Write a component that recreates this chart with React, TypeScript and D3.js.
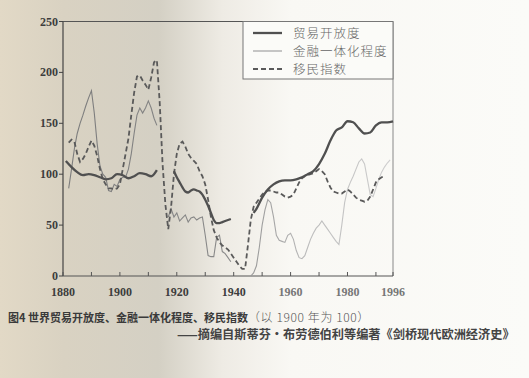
import React from "react";
import * as d3 from "d3";

const yTicks = [0, 50, 100, 150, 200, 250];
const xTickYears = [1880, 1890, 1900, 1910, 1920, 1930, 1940, 1950, 1960, 1970, 1980, 1990, 1996];
const xLabelYears = [1880, 1900, 1920, 1940, 1960, 1980, 1996];

const legendLabels = ["贸易开放度", "金融一体化程度", "移民指数"];

const tradeA: [number, number][] = [
  [1881, 113], [1883, 107], [1885, 102], [1887, 99], [1889, 100], [1891, 99], [1893, 97],
  [1895, 95], [1897, 96], [1899, 100], [1901, 99], [1903, 96], [1905, 98], [1907, 101],
  [1909, 100], [1911, 98], [1913, 104],
];
const tradeB: [number, number][] = [
  [1919, 103], [1920, 97], [1921, 92], [1922, 87], [1923, 83], [1924, 82], [1925, 84],
  [1926, 85], [1927, 84], [1928, 83], [1929, 80], [1930, 75], [1931, 69], [1932, 62],
  [1933, 55], [1934, 52], [1935, 52], [1936, 53], [1937, 54], [1938, 55], [1939, 56],
];
const tradeC: [number, number][] = [
  [1947, 62], [1948, 66], [1950, 77], [1952, 85], [1954, 90], [1956, 93], [1958, 94],
  [1960, 94], [1962, 95], [1964, 97], [1966, 100], [1968, 103], [1970, 110], [1972, 120],
  [1974, 133], [1976, 143], [1978, 146], [1980, 152], [1982, 151], [1984, 145], [1986, 140],
  [1988, 141], [1990, 148], [1992, 151], [1994, 151], [1996, 152],
];

const financeA: [number, number][] = [
  [1882, 86], [1883, 105], [1884, 125], [1885, 140], [1886, 150], [1887, 158], [1888, 167],
  [1889, 175], [1890, 182], [1891, 160], [1892, 130], [1893, 108], [1894, 100], [1895, 97],
  [1896, 84], [1897, 83], [1898, 90], [1899, 88], [1900, 95], [1901, 97], [1902, 97],
  [1903, 105], [1904, 120], [1905, 140], [1906, 158], [1907, 165], [1908, 160], [1909, 165],
  [1910, 172], [1911, 165], [1912, 155], [1913, 148],
];
const financeB: [number, number][] = [
  [1917, 58], [1918, 66], [1919, 58], [1920, 62], [1921, 54], [1922, 57], [1923, 60],
  [1924, 53], [1925, 57], [1926, 58], [1927, 55], [1928, 57], [1929, 58], [1930, 40],
  [1931, 20], [1932, 19], [1933, 19], [1934, 38], [1935, 40], [1936, 24], [1937, 22],
  [1938, 18], [1939, 14],
];
const financeC: [number, number][] = [
  [1946, 0], [1947, 3], [1948, 10], [1949, 28], [1950, 50], [1951, 65], [1952, 75],
  [1953, 72], [1954, 58], [1955, 40], [1956, 35], [1957, 34], [1958, 33], [1959, 40],
  [1960, 42], [1961, 36], [1962, 25], [1963, 18], [1964, 17], [1965, 20], [1966, 28],
  [1967, 36], [1968, 42], [1969, 47], [1970, 50], [1971, 54], [1972, 50], [1973, 46],
  [1974, 42], [1975, 38], [1976, 34], [1977, 31], [1978, 50], [1979, 72], [1980, 85],
  [1981, 92], [1982, 98], [1983, 105], [1984, 112], [1985, 115], [1986, 110], [1987, 95],
  [1988, 80], [1989, 78], [1990, 86], [1991, 95], [1992, 102], [1993, 107], [1994, 111],
  [1995, 114],
];

const migration: [number, number][] = [
  [1882, 131], [1883, 134], [1884, 132], [1885, 120], [1886, 112], [1887, 115], [1888, 120],
  [1889, 127], [1890, 133], [1891, 128], [1892, 118], [1893, 105], [1894, 95], [1895, 90],
  [1896, 86], [1897, 86], [1898, 85], [1899, 86], [1900, 90], [1901, 105], [1902, 120],
  [1903, 135], [1904, 158], [1905, 180], [1906, 196], [1907, 197], [1908, 192], [1909, 188],
  [1910, 183], [1911, 195], [1912, 210], [1913, 212], [1914, 170], [1915, 110], [1916, 70],
  [1917, 46], [1918, 68], [1919, 100], [1920, 120], [1921, 130], [1922, 132], [1923, 127],
  [1924, 120], [1925, 116], [1926, 113], [1927, 110], [1928, 103], [1929, 98], [1930, 90],
  [1931, 75], [1932, 58], [1933, 45], [1934, 38], [1935, 33], [1936, 30], [1937, 28],
  [1938, 26], [1939, 22], [1940, 18], [1941, 14], [1942, 10], [1943, 7], [1944, 7],
  [1945, 30], [1946, 55], [1947, 68], [1948, 72], [1949, 76], [1950, 80], [1951, 83],
  [1952, 84], [1953, 84], [1954, 83], [1955, 82], [1956, 82], [1957, 80], [1958, 78],
  [1959, 77], [1960, 78], [1961, 80], [1962, 86], [1963, 92], [1964, 96], [1965, 98],
  [1966, 99], [1967, 100], [1968, 101], [1969, 103], [1970, 105], [1971, 103], [1972, 100],
  [1973, 93], [1974, 87], [1975, 83], [1976, 82], [1977, 81], [1978, 81], [1979, 83],
  [1980, 85], [1981, 83], [1982, 80], [1983, 77], [1984, 75], [1985, 74], [1986, 73],
  [1987, 74], [1988, 78], [1989, 85], [1990, 92], [1991, 95], [1992, 97], [1993, 98],
];

const W = 529;
const H = 378;
const left = 63;
const right = 393;
const top = 21.5;
const bottom = 276;

export default function App() {
  const x = d3.scaleLinear().domain([1880, 1996]).range([left, right]);
  const y = d3.scaleLinear().domain([0, 250]).range([bottom, top]);

  const smooth = d3
    .line<[number, number]>()
    .x((d) => x(d[0]))
    .y((d) => y(d[1]))
    .curve(d3.curveMonotoneX);
  const straight = d3
    .line<[number, number]>()
    .x((d) => x(d[0]))
    .y((d) => y(d[1]))
    .curve(d3.curveLinear);

  const tickFont = "'Liberation Serif', 'DejaVu Serif', serif";
  const cjk = "'Noto Sans CJK SC', sans-serif";

  const legendY = [33, 51, 69];

  return (
    <svg
      width={W}
      height={H}
      style={{ position: "absolute", left: 0, top: 0, display: "block" }}
    >
      <defs>
        <linearGradient id="bg" x1="0" y1="0" x2="1" y2="0">
          <stop offset="0" stopColor="#e2d9c6" />
          <stop offset="0.12" stopColor="#d9d2c2" />
          <stop offset="0.3" stopColor="#d4d0c4" />
          <stop offset="0.42" stopColor="#eeebe4" />
          <stop offset="0.55" stopColor="#f9f8f4" />
          <stop offset="1" stopColor="#fbfbf8" />
        </linearGradient>
        <linearGradient id="fin" gradientUnits="userSpaceOnUse" x1={left} y1="0" x2={right} y2="0">
          <stop offset="0" stopColor="#7c7c7c" />
          <stop offset="0.5" stopColor="#8a8a8a" />
          <stop offset="0.75" stopColor="#bdbdbd" />
          <stop offset="1" stopColor="#cfcfcf" />
        </linearGradient>
      </defs>
      <rect x={0} y={0} width={W} height={H} fill="url(#bg)" />

      {/* frame */}
      <line x1={left} y1={top} x2={right} y2={top} stroke="#555" strokeWidth={1} />
      <line x1={right} y1={top} x2={right} y2={bottom} stroke="#888" strokeWidth={1} />
      <line x1={left} y1={top} x2={left} y2={bottom} stroke="#444" strokeWidth={1.2} />
      <line x1={left} y1={bottom} x2={right} y2={bottom} stroke="#555" strokeWidth={1.2} />

      {/* y ticks */}
      {yTicks.map((t) => (
        <g key={"y" + t}>
          <line x1={left - 4} x2={left} y1={y(t)} y2={y(t)} stroke="#444" />
          <text
            x={left - 5}
            y={y(t) + 4}
            textAnchor="end"
            fontFamily={tickFont}
            fontWeight="bold"
            fontSize={12}
            fill="#3d3d3d"
          >
            {t}
          </text>
        </g>
      ))}

      {/* x ticks */}
      {xTickYears.map((t) => (
        <line key={"xt" + t} x1={x(t)} x2={x(t)} y1={bottom} y2={bottom - 4} stroke="#555" />
      ))}
      {xLabelYears.map((t) => (
        <text
          key={"xl" + t}
          x={x(t)}
          y={bottom + 20}
          textAnchor="middle"
          fontFamily={tickFont}
          fontWeight="bold"
          fontSize={12}
          fill={t >= 1960 ? "#777" : "#3d3d3d"}
        >
          {t}
        </text>
      ))}

      {/* series */}
      {[financeA, financeB, financeC].map((s, i) => (
        <path key={"f" + i} d={straight(s) || ""} fill="none" stroke="url(#fin)" strokeWidth={1.1} />
      ))}
      <path
        d={straight(migration) || ""}
        fill="none"
        stroke="#5a5a5a"
        strokeWidth={1.8}
        strokeDasharray="5,3"
      />
      {[tradeA, tradeB, tradeC].map((s, i) => (
        <path key={"t" + i} d={smooth(s) || ""} fill="none" stroke="#505050" strokeWidth={2.3} />
      ))}

      {/* legend */}
      <rect x={243} y={top} width={right - 243} height={79 - top} fill="#fbfbf8" stroke="#777" strokeWidth={1} />
      <line x1={253} x2={282} y1={legendY[0]} y2={legendY[0]} stroke="#505050" strokeWidth={2.3} />
      <line x1={253} x2={282} y1={legendY[1]} y2={legendY[1]} stroke="#999" strokeWidth={1.1} />
      <line
        x1={253}
        x2={282}
        y1={legendY[2]}
        y2={legendY[2]}
        stroke="#5a5a5a"
        strokeWidth={1.8}
        strokeDasharray="5,3"
      />
      {legendLabels.map((l, i) => (
        <text
          key={l}
          x={293}
          y={legendY[i] + 4.5}
          fontFamily={cjk}
          fontSize={12.5}
          fontWeight={300}
          fill="#666"
          letterSpacing={1}
        >
          {l}
        </text>
      ))}

      {/* caption */}
      <text x={8} y={322} fontFamily={cjk} fontSize={11} fill="#3a3a3a">
        <tspan fontWeight="bold">图4 世界贸易开放度、金融一体化程度、移民指数</tspan>
        <tspan fill="#555" fontWeight={300} fontSize={12} letterSpacing={0.6}>（以 1900 年为 100）</tspan>
      </text>
      <text x={177} y={339} fontFamily={cjk} fontSize={12.2} fontWeight="bold" fill="#444">
        ——摘编自斯蒂芬·布劳德伯利等编著《剑桥现代欧洲经济史》
      </text>
    </svg>
  );
}
